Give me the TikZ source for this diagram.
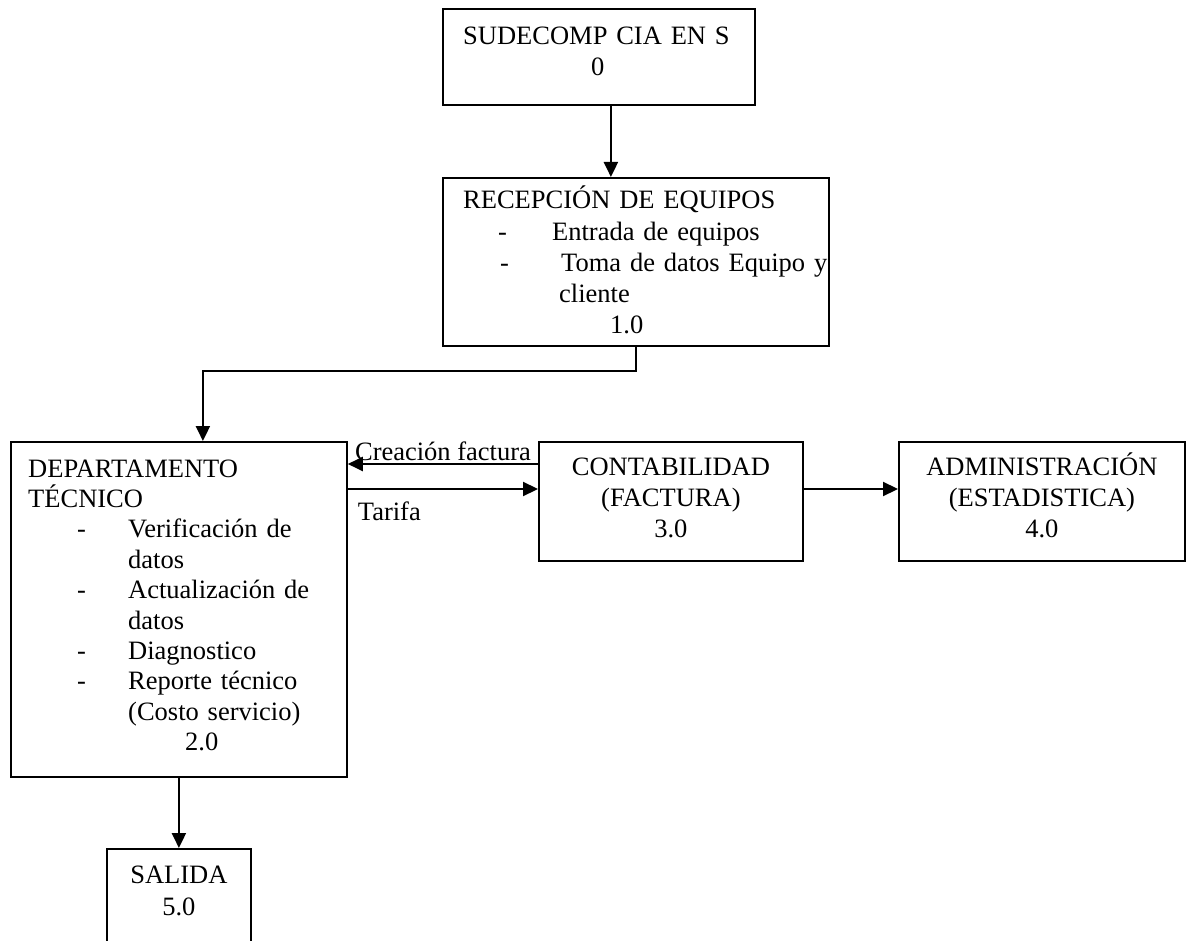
\documentclass[tikz,border=0pt]{standalone}
\usepackage{fontspec}
\setmainfont{Liberation Serif}
\usetikzlibrary{arrows.meta,positioning}
\newcommand{\dsh}[2]{\makebox[#2pt][l]{\hspace*{#1pt}-}}
\newcommand{\ind}[1]{\hspace*{#1pt}}
\tikzset{
  box/.style={draw,line width=1.8pt,inner sep=0pt,anchor=north west},
  txt/.style={inner sep=0pt,text width=400pt,align=left,anchor=base west},
  ctxt/.style={inner sep=0pt,text width=280pt,align=center,anchor=base},
  lbl/.style={inner sep=0pt},
  arr/.style={-{Triangle[length=15pt,width=14pt]},line width=2.2pt},
}
\begin{document}
\begin{tikzpicture}[x=1pt,y=-1pt,font=\fontsize{26.5}{30.4}\selectfont]
  \useasboundingbox (0,0) rectangle (1186,941);
  \clip (0,0) rectangle (1186,941);
  \node[box,minimum width=312pt,minimum height=96pt] (s0) at (442,8) {};
  \node[box,minimum width=386pt,minimum height=168pt] (rec) at (442,177) {};
  \node[box,minimum width=336pt,minimum height=335pt] (dep) at (10,441) {};
  \node[box,minimum width=264pt,minimum height=119pt] (con) at (538,441) {};
  \node[box,minimum width=286pt,minimum height=119pt] (adm) at (898,441) {};
  \node[box,minimum width=144pt,minimum height=120pt] (sal) at (106,848) {};

  \node[txt] (s0t) at ([shift={(21,37)}]s0.north west) {SUDECOMP CIA EN S\\\ind{128}0};
  \node[txt,font=\fontsize{26.5}{31.2}\selectfont] (rect) at ([shift={(21,32)}]rec.north west)
    {RECEPCIÓN DE EQUIPOS\\
     \dsh{35}{89}Entrada de equipos\\
     \dsh{37}{98}Toma de datos Equipo y\\
     \ind{96}cliente\\
     \ind{147}1.0};
  \node[txt] (dept) at ([shift={(18,36)}]dep.north west)
    {DEPARTAMENTO\\
     TÉCNICO\\
     \dsh{49}{100}Verificación de\\
     \ind{100}datos\\
     \dsh{49}{100}Actualización de\\
     \ind{100}datos\\
     \dsh{49}{100}Diagnostico\\
     \dsh{49}{100}Reporte técnico\\
     \ind{100}(Costo servicio)\\
     \ind{157}2.0};
  \node[ctxt,font=\fontsize{26.5}{31}\selectfont] (cont) at ([yshift=-34pt]con.north)
    {CONTABILIDAD\\(FACTURA)\\3.0};
  \node[ctxt,font=\fontsize{26.5}{31}\selectfont] (admt) at ([yshift=-34pt]adm.north)
    {ADMINISTRACIÓN\\(ESTADISTICA)\\4.0};
  \node[ctxt,font=\fontsize{26.5}{32}\selectfont] (salt) at ([yshift=-35pt]sal.north)
    {SALIDA\\5.0};

  \coordinate (cf) at ([yshift=-23pt]con.north west);
  \coordinate (ta) at ([yshift=-48pt]con.north west);

  \draw[arr] ([xshift=12pt]s0.south) -- ([xshift=12pt]s0.south |- rec.north);
  \draw[arr] (rec.south) -- ++(0,24) -| ([xshift=24pt]dep.north);
  \draw[arr] (cf) -- node[lbl,pos=0,anchor=base east,xshift=-6pt,yshift=4pt] (cft) {Creación factura} (cf -| dep.east);
  \draw[arr] (ta -| dep.east) -- node[lbl,pos=0,anchor=base west,xshift=9pt,yshift=-31pt] (tat) {Tarifa} (ta);
  \draw[arr] (con.east |- ta) -- (adm.west |- ta);
  \draw[arr] (dep.south) -- (sal.north);
\end{tikzpicture}
\end{document}
